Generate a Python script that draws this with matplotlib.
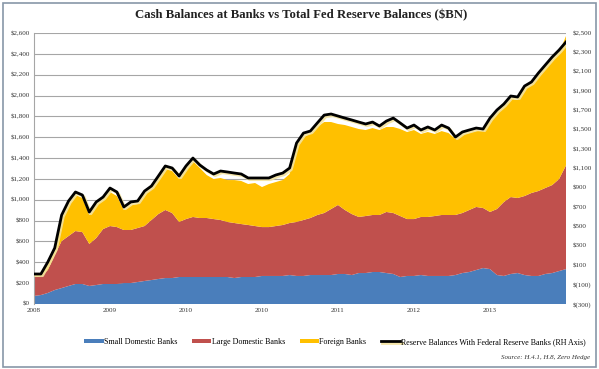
import matplotlib
matplotlib.use("Agg")
import matplotlib.pyplot as plt
import matplotlib.patheffects as pe
from matplotlib.patches import Rectangle
import numpy as np

plt.rcParams['font.family'] = ['Liberation Serif', 'DejaVu Serif']

# $BN, sampled roughly every 4 weeks, Jan 2008 -> Dec 2013
small_domestic = [77, 86, 106, 134, 153, 173, 192, 192, 173, 182, 192, 192, 192, 201, 201, 211,
                  221, 230, 240, 249, 249, 259, 259, 259, 259, 259, 259, 259, 259, 249, 259, 259,
                  259, 269, 269, 269, 269, 278, 269, 269, 278, 278, 278, 278, 288, 288, 278, 297,
                  297, 307, 307, 297, 288, 259, 269, 269, 278, 269, 269, 269, 269, 278, 297, 307,
                  326, 345, 335, 278, 269, 288, 297, 278, 269, 269, 288, 297, 316, 335]
large_domestic = [182, 183, 220, 336, 451, 479, 508, 498, 403, 451, 527, 556, 546, 509, 509, 518,
                  527, 576, 623, 653, 624, 528, 556, 576, 566, 566, 556, 547, 528, 528, 508, 499,
                  489, 469, 469, 479, 489, 499, 518, 537, 547, 576, 595, 633, 662, 614, 585, 538,
                  547, 547, 547, 586, 585, 585, 546, 546, 557, 566, 575, 585, 585, 576, 576, 595,
                  605, 576, 548, 633, 709, 738, 720, 758, 796, 815, 825, 844, 883, 995]
foreign = [19, 12, 48, 29, 211, 288, 346, 327, 278, 317, 279, 326, 298, 192, 240, 230,
           307, 297, 336, 393, 403, 412, 470, 537, 480, 412, 384, 403, 402, 412, 413, 393,
           413, 384, 413, 422, 431, 470, 729, 796, 806, 844, 873, 835, 777, 815, 835, 844,
           825, 834, 815, 815, 825, 835, 835, 854, 796, 815, 787, 805, 786, 729, 748, 738,
           728, 738, 872, 921, 912, 940, 940, 1026, 1036, 1103, 1151, 1199, 1209, 1241]
# reserve balances with Fed (right hand axis)
reserves = [10, 10, 134, 279, 619, 764, 857, 826, 650, 754, 805, 898, 857, 702, 754, 764,
            867, 919, 1022, 1126, 1105, 1022, 1126, 1208, 1136, 1084, 1043, 1074, 1064, 1053, 1043, 1002,
            1002, 1002, 1002, 1033, 1053, 1105, 1363, 1466, 1487, 1570, 1652, 1663, 1642, 1621, 1601, 1580,
            1560, 1580, 1539, 1590, 1621, 1570, 1518, 1549, 1498, 1529, 1498, 1549, 1518, 1425, 1477, 1498,
            1518, 1508, 1621, 1704, 1766, 1849, 1839, 1952, 1994, 2086, 2169, 2252, 2324, 2407]

year_labels = ['2008', '2009', '2010', '2010', '2011', '2012', '2013']
label_every = 11

x = np.arange(len(small_domestic))

fig = plt.figure(figsize=(5.99, 3.69), dpi=100)
ax = fig.add_axes([34 / 599, 1 - 304 / 369, 532 / 599, 271 / 369])

ax.stackplot(x, small_domestic, large_domestic, foreign,
             colors=['#4a7ebb', '#c0504d', '#ffc000'],
             labels=['Small Domestic Banks', 'Large Domestic Banks', 'Foreign Banks'])
ax.set_xlim(0, len(x) - 1)
ax.set_ylim(0, 2600)
ax.set_yticks(range(0, 2601, 200))
ax.set_yticklabels([f"${v:,}" for v in range(0, 2601, 200)])
ax.set_xticks(range(0, len(x), label_every)[:len(year_labels)])
ax.set_xticklabels(year_labels)
ax.grid(axis='y', color='#a6a6a6', lw=0.8)
ax.set_axisbelow(True)
ax.tick_params(length=0, labelsize=5, colors='#333333', pad=3)
for s in ['top', 'right', 'bottom']:
    ax.spines[s].set_visible(False)
ax.spines['left'].set_color('#a6a6a6')

ax2 = ax.twinx()
line, = ax2.plot(x, reserves, color='black', lw=2,
                 label='Reserve Balances With Federal Reserve Banks (RH Axis)',
                 path_effects=[pe.SimpleLineShadow(offset=(1.2, -1.2), shadow_color='#f3e3a0', alpha=0.9),
                               pe.Normal()])
ax2.set_ylim(-300, 2500)
rticks = list(range(-300, 2501, 200))
ax2.set_yticks(rticks)
ax2.set_yticklabels([f"$({-v:,})" if v < 0 else f"${v:,}" for v in rticks])
ax2.tick_params(length=0, labelsize=5, colors='#333333', pad=5)
for s in ax2.spines.values():
    s.set_visible(False)

fig.text(0.502, 1 - 15 / 369, 'Cash Balances at Banks vs Total Fed Reserve Balances ($BN)',
         ha='center', va='center', fontsize=9.2, fontweight='bold', color='#222222')

h1, l1 = ax.get_legend_handles_labels()
leg = fig.legend(h1 + [line], l1 + [line.get_label()], loc='center',
                 bbox_to_anchor=(0.559, 1 - 342 / 369),
                 ncol=4, frameon=False, fontsize=5.8, handlelength=2.4, handleheight=0.5,
                 handletextpad=0.05, columnspacing=1.8)

fig.text(590 / 599, 1 - 357 / 369, 'Source: H.4.1, H.8, Zero Hedge', ha='right', va='center',
         fontsize=5, style='italic', color='#333333')

fig.patches.append(Rectangle((3 / 599, 2 / 369), 593 / 599, 364 / 369, transform=fig.transFigure,
                             fill=False, edgecolor='#8797a8', lw=1.2))

fig.savefig('out.png', dpi=100)
